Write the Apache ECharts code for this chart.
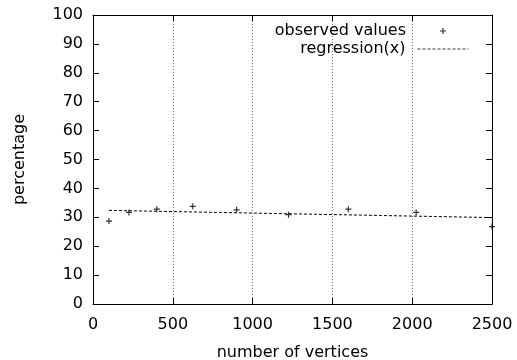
<!DOCTYPE html>
<html>
<head>
<meta charset="utf-8">
<script src="https://cdn.jsdelivr.net/npm/echarts@6/dist/echarts.min.js"></script>
<style>
  html, body { margin: 0; padding: 0; background: #fff; }
  #main { width: 517px; height: 360px; }
</style>
</head>
<body>
<div id="main"></div>
<script>
// observed points: number of vertices -> percentage
var vertices = [100, 225, 400, 625, 900, 1225, 1600, 2025, 2500];
var observed = [28.7, 31.7, 32.8, 33.8, 32.6, 30.9, 32.8, 31.7, 26.8];
// fitted line end points
var regressionX = [100, 2500];
var regressionY = [32.4, 29.9];
// axis ranges
var xRange = [0, 2500, 500];
var yRange = [0, 100, 10];

var FONT = 'DejaVu Sans';
var plus = 'path://M-1,-5H1V-1H5V1H1V5H-1V1H-5V-1H-1Z';

function zip(a, b) {
  return a.map(function (v, i) { return [v, b[i]]; });
}

// border axes (top/right) only mirror the ticks
function xAx(pos, main) {
  return {
    type: 'value', position: pos, min: xRange[0], max: xRange[1], interval: xRange[2],
    name: main ? 'number of vertices' : '', nameLocation: 'middle', nameGap: 41,
    nameTextStyle: { fontFamily: FONT, fontSize: 16, color: '#000' },
    axisLine: { show: true, onZero: false, lineStyle: { color: '#000', width: 1 } },
    axisTick: { show: true, inside: true, length: 6, lineStyle: { color: '#000' } },
    axisLabel: { show: main, margin: 13, fontFamily: FONT, fontSize: 16, color: '#000',
      formatter: function (v) { return String(v); } },
    splitLine: { show: main, lineStyle: { color: '#777', type: [1, 2], width: 1 } }
  };
}
function yAx(pos, main) {
  return {
    type: 'value', position: pos, min: yRange[0], max: yRange[1], interval: yRange[2],
    name: main ? 'percentage' : '', nameLocation: 'middle', nameGap: 65,
    nameTextStyle: { fontFamily: FONT, fontSize: 16, color: '#000' },
    axisLine: { show: true, onZero: false, lineStyle: { color: '#000', width: 1 } },
    axisTick: { show: true, inside: true, length: 6, lineStyle: { color: '#000' } },
    axisLabel: { show: main, margin: 10, fontFamily: FONT, fontSize: 16, color: '#000' },
    splitLine: { show: false }
  };
}

var chart = echarts.init(document.getElementById('main'));
chart.setOption({
  animation: false,
  backgroundColor: '#fff',
  grid: { left: 93, right: 25, top: 15, bottom: 56, outerBoundsMode: 'none', containLabel: false },
  legend: [{
    data: ['observed values'], orient: 'vertical', align: 'right',
    right: 71, top: 23, padding: 0, itemWidth: 6, itemHeight: 6,
    textStyle: { fontFamily: FONT, fontSize: 16, color: '#000', padding: [0, 29, 0, 0] }
  }, {
    data: ['regression(x)'], orient: 'vertical', align: 'right',
    right: 48, top: 41, padding: 0, itemWidth: 51, itemHeight: 14,
    // hide the dot, keep the dashed sample line
    itemStyle: { color: 'rgba(0,0,0,0)', borderColor: 'rgba(0,0,0,0)', borderWidth: 0 },
    lineStyle: { color: '#333', width: 1, type: [3, 2] },
    textStyle: { fontFamily: FONT, fontSize: 16, color: '#000', padding: [0, 7, 0, 0] }
  }],
  xAxis: [xAx('bottom', true), xAx('top', false)],
  yAxis: [yAx('left', true), yAx('right', false)],
  series: [{
    name: 'observed values',
    type: 'scatter',
    symbol: plus,
    symbolSize: 6,
    clip: false,
    itemStyle: { color: '#000' },
    data: zip(vertices, observed)
  }, {
    name: 'regression(x)',
    type: 'line',
    symbol: 'none',
    itemStyle: { color: '#000' },
    lineStyle: { color: '#000', width: 1, type: [3, 2] },
    data: zip(regressionX, regressionY)
  }]
});
</script>
</body>
</html>
